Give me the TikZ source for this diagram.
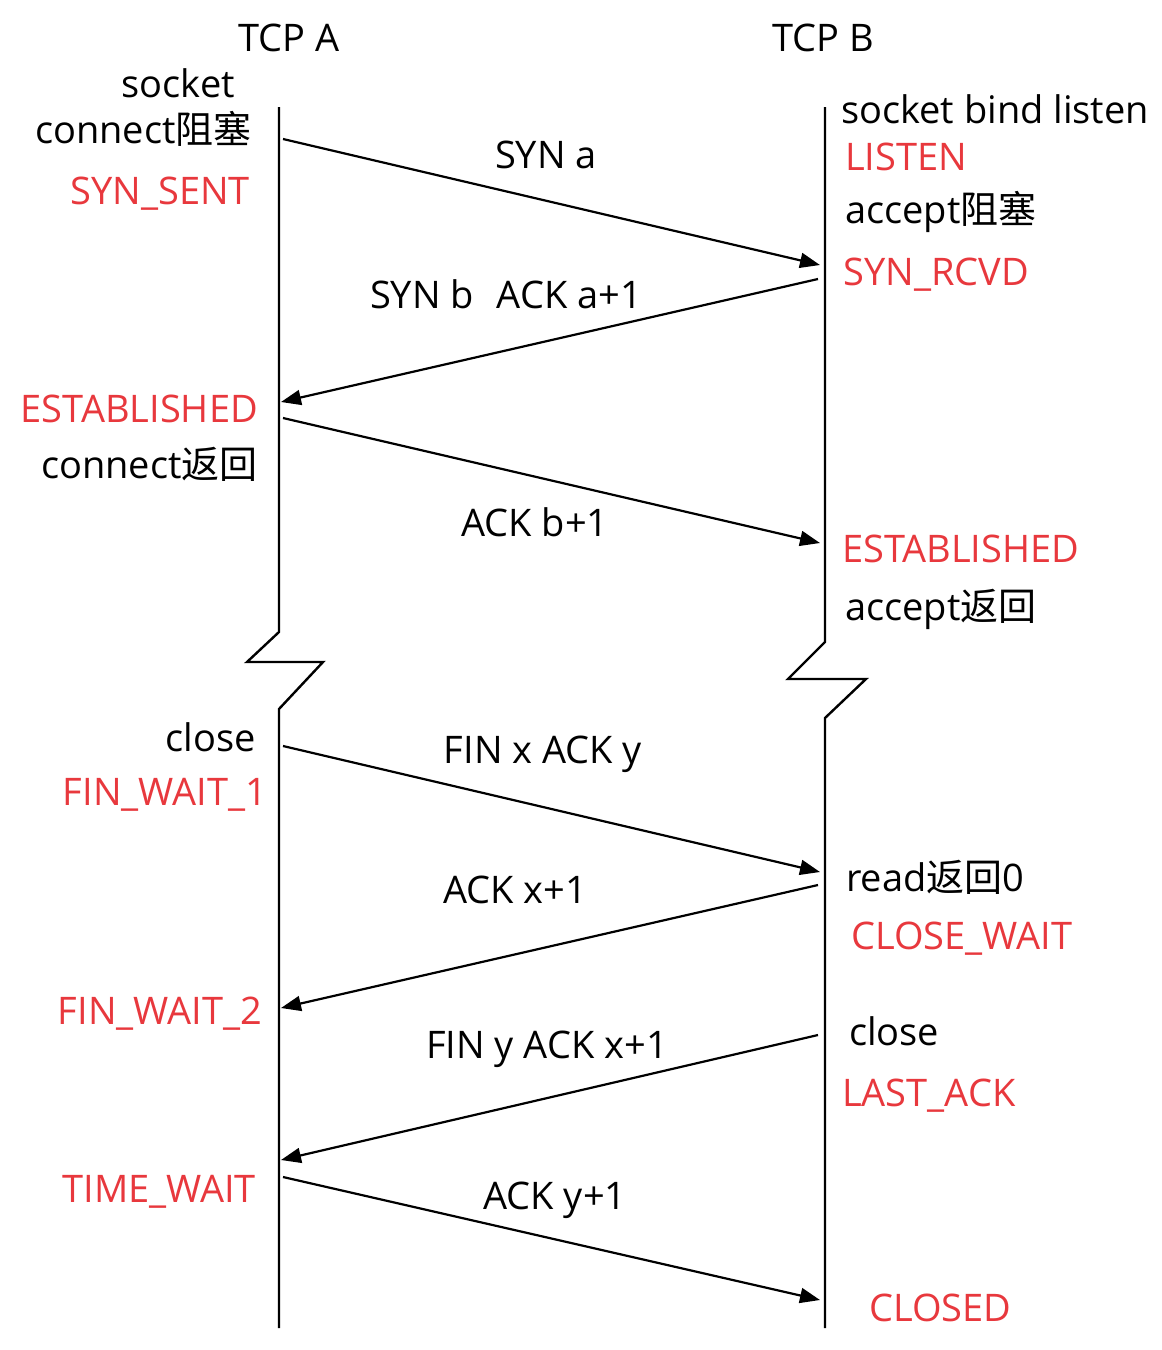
\documentclass[tikz,border=0pt]{standalone}
\usepackage{fontspec}
\setmainfont{Open Sans}
\newfontfamily\cjk{Noto Sans CJK SC}
\usetikzlibrary{arrows.meta}
\definecolor{statered}{RGB}{232,56,61}
\tikzset{
    lbl/.style={inner sep=0pt, font=\fontsize{38}{44}\selectfont},
    state/.style={lbl, text=statered},
    timeline/.style={line width=2.4pt},
    msg/.style={line width=2.2pt, -{Triangle[length=20pt,width=15pt]}}
}
\begin{document}
\begin{tikzpicture}[x=1pt,y=-1pt]
    \useasboundingbox[fill=white] (0,0) rectangle (1162,1350);

    % Headers of the two ends
    \node[lbl, anchor=base] (tcpA) at (289,51) {TCP A};
    \node[lbl, anchor=base] (tcpB) at (823,51) {TCP B};

    % Timeline of TCP A, with a break
    \coordinate (A0) at (279,107);
    \coordinate (A1) at (279,632);
    \coordinate (A2) at (247,662);
    \coordinate (A3) at (323,662);
    \coordinate (A4) at (279,709);
    \coordinate (A5) at (279,1328);
    \draw[timeline] (A0) -- (A1) -- (A2) -- (A3) -- (A4) -- (A5);

    % Timeline of TCP B, with a break
    \coordinate (B0) at (825,107);
    \coordinate (B1) at (825,642);
    \coordinate (B2) at (788,679);
    \coordinate (B3) at (866,679);
    \coordinate (B4) at (825,718);
    \coordinate (B5) at (825,1328);
    \draw[timeline] (B0) -- (B1) -- (B2) -- (B3) -- (B4) -- (B5);

    % Calls and states of TCP A
    \node[lbl, anchor=base east] (sockA) at (235,97) {socket};
    \node[lbl, anchor=base east] (connA) at (252,143) {connect{\cjk 阻塞}};
    \node[state, anchor=base east] (synsent) at (250,204) {SYN\_SENT};
    \node[state, anchor=base east] (estA) at (258,422) {ESTABLISHED};
    \node[lbl, anchor=base east] (connretA) at (258,478) {connect{\cjk 返回}};
    \node[lbl, anchor=base east] (closeA) at (256,751) {close};
    \node[state, anchor=base east] (finwait1) at (267,805) {FIN\_WAIT\_1};
    \node[state, anchor=base east] (finwait2) at (262,1024) {FIN\_WAIT\_2};
    \node[state, anchor=base east] (timewait) at (256,1202) {TIME\_WAIT};

    % Calls and states of TCP B
    \node[lbl, anchor=base west] (sockB) at (841,123) {socket bind listen};
    \node[state, anchor=base west] (listen) at (845,170) {LISTEN};
    \node[lbl, anchor=base west] (accB) at (845,223) {accept{\cjk 阻塞}};
    \node[state, anchor=base west] (synrcvd) at (843,285) {SYN\_RCVD};
    \node[state, anchor=base west] (estB) at (842,562) {ESTABLISHED};
    \node[lbl, anchor=base west] (accretB) at (845,620) {accept{\cjk 返回}};
    \node[lbl, anchor=base west] (readB) at (846,891) {read{\cjk 返回}0};
    \node[state, anchor=base west] (closewait) at (851,949) {CLOSE\_WAIT};
    \node[lbl, anchor=base west] (closeB) at (849,1045) {close};
    \node[state, anchor=base west] (lastack) at (842,1106) {LAST\_ACK};
    \node[state, anchor=base west] (closed) at (869,1321) {CLOSED};

    % Ends of the segments
    \coordinate (s1) at (283,139);  \coordinate (e1) at (820,265);
    \coordinate (s2) at (818,279);  \coordinate (e2) at (281,402);
    \coordinate (s3) at (283,418);  \coordinate (e3) at (820,543);
    \coordinate (s4) at (283,746);  \coordinate (e4) at (820,872);
    \coordinate (s5) at (818,885);  \coordinate (e5) at (281,1008);
    \coordinate (s6) at (818,1035); \coordinate (e6) at (281,1160);
    \coordinate (s7) at (283,1177); \coordinate (e7) at (820,1300);

    % Segments
    \draw[msg] (s1) -- (e1);
    \draw[msg] (s2) -- (e2);
    \draw[msg] (s3) -- (e3);
    \draw[msg] (s4) -- (e4);
    \draw[msg] (s5) -- (e5);
    \draw[msg] (s6) -- (e6);
    \draw[msg] (s7) -- (e7);

    % Labels of the segments
    \node[lbl, anchor=base] (synA) at (546,168) {SYN a};
    \node[lbl, anchor=base] (synackB) at (506,308) {SYN b\hspace{0.6em}ACK a+1};
    \node[lbl, anchor=base] (ackA) at (535,536) {ACK b+1};
    \node[lbl, anchor=base] (finA) at (543,763) {FIN x ACK y};
    \node[lbl, anchor=base] (ackB) at (515,903) {ACK x+1};
    \node[lbl, anchor=base] (finB) at (547,1058) {FIN y ACK x+1};
    \node[lbl, anchor=base] (lastackA) at (555,1209) {ACK y+1};
\end{tikzpicture}
\end{document}
